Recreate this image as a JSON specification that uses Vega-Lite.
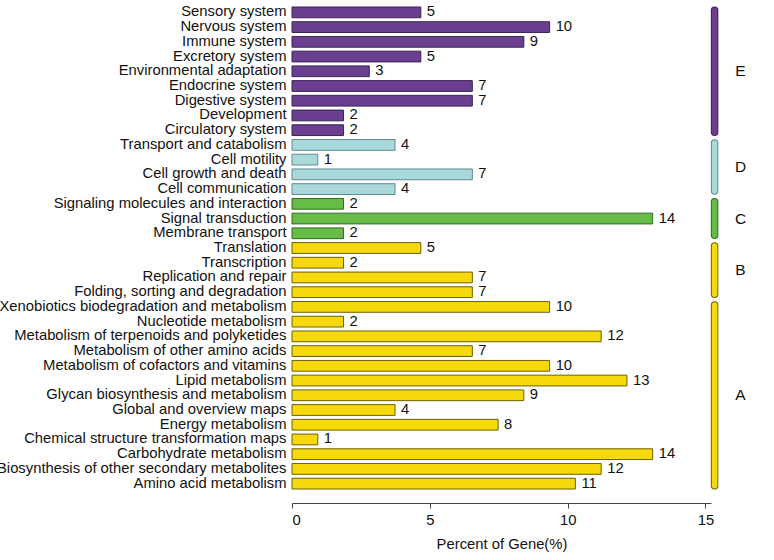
{
  "$schema": "https://vega.github.io/schema/vega-lite/v6.json",
  "autosize": {"type": "none"},
  "padding": {"left": 292, "top": 5, "right": 63, "bottom": 69},
  "width": 419,
  "height": 486,
  "config": {
    "view": {"stroke": null},
    "font": "Liberation Sans",
    "axis": {"labelFont": "Liberation Sans", "titleFont": "Liberation Sans"}
  },
  "datasets": {
    "bars": [
      {"group": "E", "category": "Sensory system", "count": 5, "percent": 4.673},
      {"group": "E", "category": "Nervous system", "count": 10, "percent": 9.346},
      {"group": "E", "category": "Immune system", "count": 9, "percent": 8.411},
      {"group": "E", "category": "Excretory system", "count": 5, "percent": 4.673},
      {"group": "E", "category": "Environmental adaptation", "count": 3, "percent": 2.804},
      {"group": "E", "category": "Endocrine system", "count": 7, "percent": 6.542},
      {"group": "E", "category": "Digestive system", "count": 7, "percent": 6.542},
      {"group": "E", "category": "Development", "count": 2, "percent": 1.869},
      {"group": "E", "category": "Circulatory system", "count": 2, "percent": 1.869},
      {"group": "D", "category": "Transport and catabolism", "count": 4, "percent": 3.738},
      {"group": "D", "category": "Cell motility", "count": 1, "percent": 0.935},
      {"group": "D", "category": "Cell growth and death", "count": 7, "percent": 6.542},
      {"group": "D", "category": "Cell communication", "count": 4, "percent": 3.738},
      {"group": "C", "category": "Signaling molecules and interaction", "count": 2, "percent": 1.869},
      {"group": "C", "category": "Signal transduction", "count": 14, "percent": 13.084},
      {"group": "C", "category": "Membrane transport", "count": 2, "percent": 1.869},
      {"group": "B", "category": "Translation", "count": 5, "percent": 4.673},
      {"group": "B", "category": "Transcription", "count": 2, "percent": 1.869},
      {"group": "B", "category": "Replication and repair", "count": 7, "percent": 6.542},
      {"group": "B", "category": "Folding, sorting and degradation", "count": 7, "percent": 6.542},
      {"group": "A", "category": "Xenobiotics biodegradation and metabolism", "count": 10, "percent": 9.346},
      {"group": "A", "category": "Nucleotide metabolism", "count": 2, "percent": 1.869},
      {"group": "A", "category": "Metabolism of terpenoids and polyketides", "count": 12, "percent": 11.215},
      {"group": "A", "category": "Metabolism of other amino acids", "count": 7, "percent": 6.542},
      {"group": "A", "category": "Metabolism of cofactors and vitamins", "count": 10, "percent": 9.346},
      {"group": "A", "category": "Lipid metabolism", "count": 13, "percent": 12.150},
      {"group": "A", "category": "Glycan biosynthesis and metabolism", "count": 9, "percent": 8.411},
      {"group": "A", "category": "Global and overview maps", "count": 4, "percent": 3.738},
      {"group": "A", "category": "Energy metabolism", "count": 8, "percent": 7.477},
      {"group": "A", "category": "Chemical structure transformation maps", "count": 1, "percent": 0.935},
      {"group": "A", "category": "Carbohydrate metabolism", "count": 14, "percent": 13.084},
      {"group": "A", "category": "Biosynthesis of other secondary metabolites", "count": 12, "percent": 11.215},
      {"group": "A", "category": "Amino acid metabolism", "count": 11, "percent": 10.280}
    ],
    "groups": [
      {"group": "E", "first": "Sensory system", "last": "Circulatory system", "mid": "Environmental adaptation", "even": false},
      {"group": "D", "first": "Transport and catabolism", "last": "Cell communication", "mid": "Cell motility", "even": true},
      {"group": "C", "first": "Signaling molecules and interaction", "last": "Membrane transport", "mid": "Signal transduction", "even": false},
      {"group": "B", "first": "Translation", "last": "Folding, sorting and degradation", "mid": "Transcription", "even": true},
      {"group": "A", "first": "Xenobiotics biodegradation and metabolism", "last": "Amino acid metabolism", "mid": "Glycan biosynthesis and metabolism", "even": false}
    ]
  },
  "layer": [
    {
      "data": {"name": "bars"},
      "mark": {"type": "bar", "strokeWidth": 1},
      "encoding": {
        "y": {
          "field": "category", "type": "nominal", "sort": null,
          "scale": {"paddingInner": 0.27, "paddingOuter": 0.135},
          "axis": {"title": null, "domain": false, "ticks": false, "labelPadding": 6, "labelFontSize": 14.8, "labelColor": "#111", "labelLimit": 500}
        },
        "x": {
          "field": "percent", "type": "quantitative",
          "scale": {"domain": [0, 15.2], "nice": false, "zero": true},
          "axis": {"title": "Percent of Gene(%)", "values": [0, 5, 10, 15], "grid": false, "offset": 12, "domainColor": "#444", "tickColor": "#444", "tickSize": 5, "labelFontSize": 14.8, "labelColor": "#111", "labelPadding": 4, "titleFontSize": 14.8, "titleFontWeight": "normal", "titleColor": "#111", "titlePadding": 10}
        },
        "fill": {"field": "group", "type": "nominal", "legend": null,
          "scale": {"domain": ["A", "B", "C", "D", "E"], "range": ["#F5D90A", "#F5D90A", "#67BB47", "#A9D9DB", "#6A3F90"]}},
        "stroke": {"field": "group", "type": "nominal", "legend": null,
          "scale": {"domain": ["A", "B", "C", "D", "E"], "range": ["#6E6000", "#6E6000", "#2F6B22", "#5E8A8E", "#3B2356"]}}
      }
    },
    {
      "data": {"name": "bars"},
      "mark": {"type": "text", "align": "left", "dx": 6, "fontSize": 14.8, "color": "#111"},
      "encoding": {
        "y": {"field": "category", "type": "nominal", "sort": null},
        "x": {"field": "percent", "type": "quantitative"},
        "text": {"field": "count", "type": "quantitative"}
      }
    },
    {
      "data": {"name": "groups"},
      "mark": {"type": "rule", "strokeCap": "round", "strokeWidth": 7.5, "yOffset": -2, "y2Offset": 2},
      "encoding": {
        "y": {"field": "first", "type": "nominal", "sort": null},
        "y2": {"field": "last"},
        "x": {"datum": 15.33, "type": "quantitative"},
        "stroke": {"field": "group", "type": "nominal", "legend": null}
      }
    },
    {
      "data": {"name": "groups"},
      "mark": {"type": "rule", "strokeCap": "round", "strokeWidth": 5.5, "yOffset": -2, "y2Offset": 2},
      "encoding": {
        "y": {"field": "first", "type": "nominal", "sort": null},
        "y2": {"field": "last"},
        "x": {"datum": 15.33, "type": "quantitative"},
        "color": {"field": "group", "type": "nominal", "legend": null,
          "scale": {"domain": ["A", "B", "C", "D", "E"], "range": ["#F5D90A", "#F5D90A", "#67BB47", "#A9D9DB", "#6A3F90"]}}
      }
    },
    {
      "data": {"name": "groups"},
      "transform": [{"filter": "!datum.even"}],
      "mark": {"type": "text", "align": "center", "fontSize": 15.5, "color": "#111"},
      "encoding": {
        "y": {"field": "mid", "type": "nominal", "sort": null},
        "x": {"datum": 16.27, "type": "quantitative"},
        "text": {"field": "group", "type": "nominal"}
      }
    },
    {
      "data": {"name": "groups"},
      "transform": [{"filter": "datum.even"}],
      "mark": {"type": "text", "align": "center", "fontSize": 15.5, "color": "#111", "dy": 7},
      "encoding": {
        "y": {"field": "mid", "type": "nominal", "sort": null},
        "x": {"datum": 16.27, "type": "quantitative"},
        "text": {"field": "group", "type": "nominal"}
      }
    }
  ]
}
